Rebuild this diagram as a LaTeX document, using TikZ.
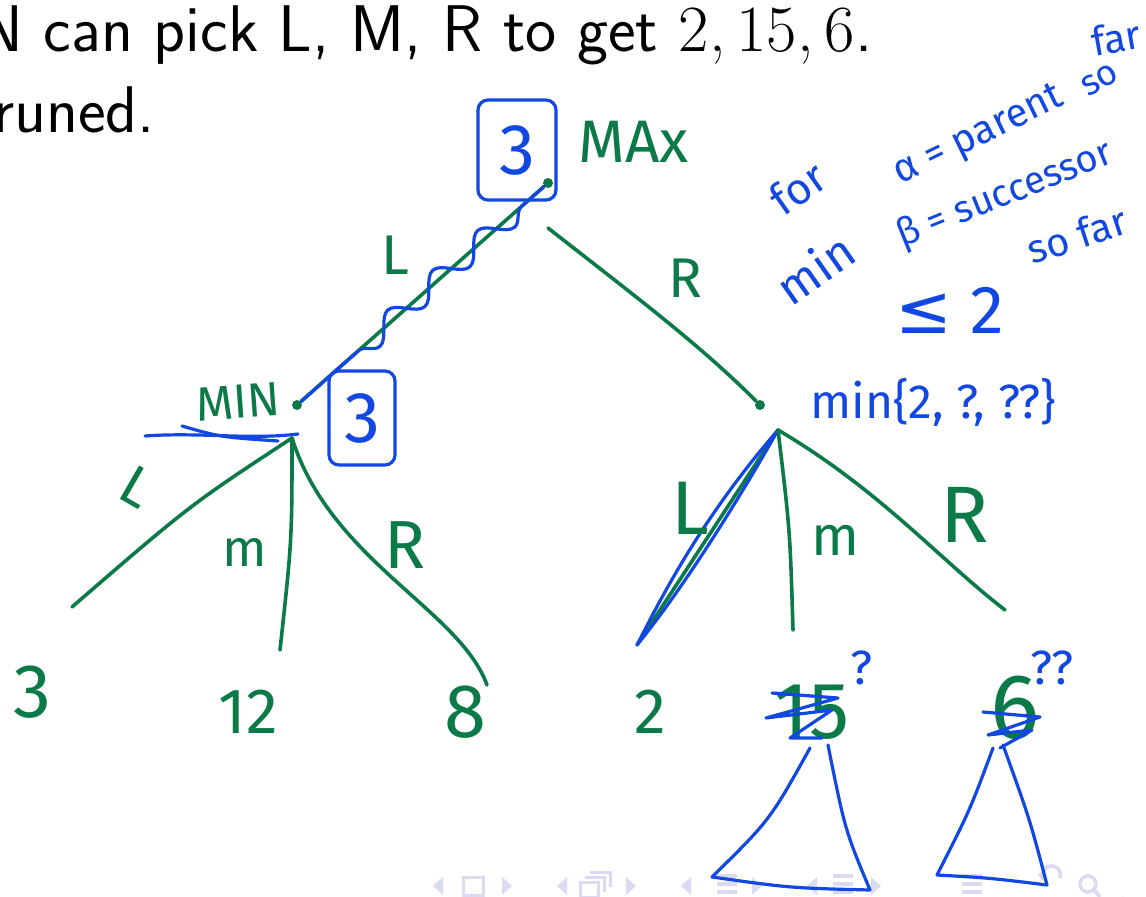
\documentclass[tikz,border=0pt]{standalone}
\usepackage{fontspec}
\newfontfamily\hand{Fira Sans}
\newfontfamily\sym{DejaVu Sans}
\usetikzlibrary{decorations.pathmorphing}
\definecolor{tgreen}{RGB}{12,122,72}
\definecolor{tblue}{RGB}{18,72,225}
\definecolor{tnav}{RGB}{218,218,242}
\begin{document}
\begin{tikzpicture}[x=0.5pt, y=-0.5pt,
  branch/.style={draw=tgreen, line width=1.8pt, line cap=round},
  ink/.style={draw=tblue, line width=1.6pt, line cap=round, line join=round},
  gnote/.style={text=tgreen, inner sep=0pt, font=\hand\fontsize{#1}{#1}\selectfont},
  gnote/.default=30,
  bnote/.style={text=tblue, inner sep=0pt, font=\hand\fontsize{#1}{#1}\selectfont},
  bnote/.default=24,
  valbox/.style={draw=tblue, line width=1.6pt, rounded corners=5pt, text=tblue, inner sep=0pt, font=\hand\fontsize{36}{36}\selectfont},
  state/.style={circle, fill=tgreen, inner sep=0pt, minimum size=5pt},
  navi/.style={fill=tnav, draw=none}]
\useasboundingbox (0,0) rectangle (1146,897);
\clip (0,0) rectangle (1146,897);
\fill[white] (0,0) rectangle (1146,897);

\node[anchor=base west, inner sep=0pt, font=\sffamily\fontsize{33}{38}\selectfont] (head) at (-21,52) {N can pick L, M, R to get {\rmfamily 2,\,15,\,6}.};
\node[anchor=base west, inner sep=0pt, font=\sffamily\fontsize{33}{38}\selectfont] (head2) at (-7,133) {runed.};

\foreach \x in {433,557,681,807} \fill[navi] (\x,886) -- ++(10,-9) -- ++(0,18) -- cycle;
\foreach \x in {512,636,762,881} \fill[navi] (\x,886) -- ++(-10,-9) -- ++(0,18) -- cycle;
\draw[tnav, line width=1.5pt] (463,877) rectangle (483,895);
\draw[tnav, line width=1.5pt] (580,882) rectangle (598,897) (585,877) -- (604,877) -- (604,892) (590,872) -- (610,872) -- (610,887);
\foreach \x in {717,833,962} \draw[tnav, line width=2.2pt] (\x,876) -- ++(20,0) (\x,884) -- ++(20,0) (\x,892) -- ++(20,0);
\draw[tnav, line width=1.8pt] (1060,878) arc (20:-200:9) (1043,880) -- (1040,873);
\draw[tnav, line width=1.8pt] (1088,884) circle (8) (1094,890) -- (1100,897);
\draw[tnav, line width=1.8pt] (1124,897) arc (200:20:12);

\node[state] (root) at (548,183) {};
\node[valbox, minimum width=39pt, minimum height=50pt] (rootval) at (517,150) {3};
\node[gnote=30, anchor=west] (maxlbl) at (578,142) {MAx};
\node[state] (minl) at (297,405) {};
\node[state] (minr) at (760,405) {};
\coordinate (rootr) at (548,228);
\coordinate (forkl) at (292,438);
\coordinate (forkr) at (778,430);

\draw[branch] (root) -- (minl);
\draw[ink, decorate, decoration={snake, amplitude=5.5pt, segment length=30pt, pre length=15pt, post length=28pt}] (root) -- (minl);
\draw[branch] (rootr) .. controls (640,300) and (700,345) .. (minr);
\node[gnote=28] (rootl) at (395,255) {L};
\node[gnote=28] (rootrl) at (685,278) {R};

\node[gnote=24, rotate=4] (minllbl) at (238,402) {MIN};
\node[valbox, minimum width=33pt, minimum height=47pt] (minlval) at (362,418) {3};
\draw[ink] (145,436) .. controls (200,432) and (250,440) .. (298,434);
\draw[ink] (182,426) .. controls (220,437) .. (278,441);

\coordinate (la) at (72,607);
\coordinate (lb) at (280,650);
\coordinate (lc) at (487,685);
\draw[branch] (forkl) .. controls (190,505) .. (la);
\draw[branch] (forkl) .. controls (292,540) .. (lb);
\draw[branch] (forkl) .. controls (330,560) and (460,610) .. (lc);
\node[gnote=28, rotate=-30] (llbl) at (137,487) {L};
\node[gnote=26] (mlbl) at (245,552) {m};
\node[gnote=34] (rlbl) at (405,545) {R};
\node[gnote=38] (leafa) at (32,692) {3};
\node[gnote=32] (leafb) at (248,712) {12};
\node[gnote=38] (leafc) at (465,712) {8};

\node[bnote=24, anchor=west] (minrlbl) at (810,402) {min\{2, ?, ??\}};
\coordinate (ra) at (637,645);
\coordinate (rb) at (793,630);
\coordinate (rc) at (1005,610);
\draw[branch] (forkr) -- (ra);
\draw[ink] (forkr) .. controls (700,520) and (660,600) .. (ra) .. controls (690,580) and (750,480) .. (forkr);
\draw[branch] (forkr) .. controls (790,530) .. (rb);
\draw[branch] (forkr) .. controls (880,490) and (940,560) .. (rc);
\node[gnote=38] (ral) at (690,508) {L};
\node[gnote=28] (rml) at (835,540) {m};
\node[gnote=40] (rrl) at (965,515) {R};
\node[gnote=32] (leafd) at (650,712) {2};
\node[gnote=40] (leafe) at (812,712) {15};
\node[gnote=46] (leaff) at (1015,708) {6};
\draw[ink] (772,693) -- (838,698) -- (766,718) -- (832,710) -- (790,738) -- (822,738);
\draw[ink] (983,712) -- (1040,717) -- (988,735) -- (1032,730) -- (1000,748);
\node[bnote=24] (qe) at (862,668) {?};
\node[bnote=24] (qf) at (1052,668) {??};
\draw[ink] (810,748) .. controls (770,820) .. (712,877) .. controls (790,888) .. (870,890) .. controls (845,830) .. (828,745);
\draw[ink] (993,748) .. controls (970,810) .. (937,875) .. controls (990,878) .. (1047,885) .. controls (1030,820) .. (1003,745);

\node[bnote=22, rotate=35] (forlbl) at (798,188) {for};
\node[bnote=24, rotate=35] (minlbl) at (815,268) {min};
\node[bnote=20, rotate=26, anchor=base west] (alpha) at (900,185) {α = parent};
\node[bnote=18, rotate=30] (so) at (1100,80) {so};
\node[bnote=20, rotate=10] (far) at (1116,38) {far};
\node[bnote=19, rotate=22, anchor=base west] (beta) at (902,248) {β = successor};
\node[bnote=20, rotate=18] (sofar) at (1077,235) {so far};
\node[bnote=34] (bound) at (950,310) {{\sym ≤} 2};
\end{tikzpicture}
\end{document}
